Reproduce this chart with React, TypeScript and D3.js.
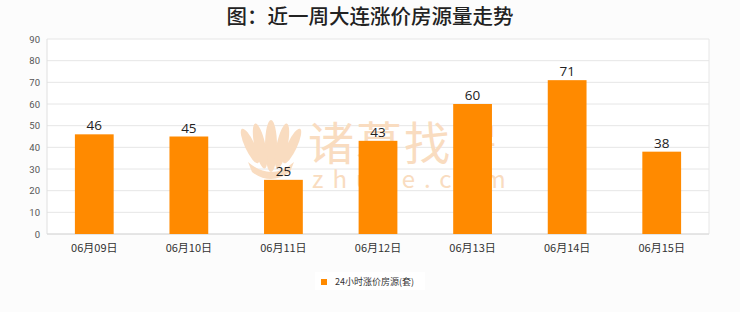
import React from "react";
import * as d3 from "d3";

const categories = ["06月09日", "06月10日", "06月11日", "06月12日", "06月13日", "06月14日", "06月15日"];
const values = [46, 45, 25, 43, 60, 71, 38];
const yTicks = [0, 10, 20, 30, 40, 50, 60, 70, 80, 90];
const seriesName = "24小时涨价房源(套)";
const title = "图：近一周大连涨价房源量走势";

const W = 740, H = 312;
const left = 47, right = 709, top = 39, bottom = 234;

const petals = [
  { dx: 0, rx: 6, ry: 26, rot: 0 },
  { dx: -11, rx: 5.5, ry: 23, rot: -12 },
  { dx: 11, rx: 5.5, ry: 23, rot: 12 },
  { dx: -21, rx: 5, ry: 19, rot: -25 },
  { dx: 21, rx: 5, ry: 19, rot: 25 },
];

export default function App() {
  const x = d3.scaleBand<string>().domain(categories).range([left, right]).paddingInner(0).paddingOuter(0);
  const y = d3.scaleLinear().domain([0, 90]).range([bottom, top]);
  const bw = x.bandwidth() * 0.41;
  const wmColor = "#f9dcc0";
  return (
    <svg width={W} height={H} style={{ position: "absolute", left: 0, top: 0, display: "block" }}>
      <rect x={0} y={0} width={W} height={H} fill="#fcfcfc" />
      <text x={370} y={24} textAnchor="middle" fontFamily="'Noto Sans CJK SC'" fontSize={20.5} fontWeight={500} fill="#222">{title}</text>
      <rect x={left} y={top} width={right - left} height={bottom - top} fill="#ffffff" />
      {yTicks.map((t) => (
        <g key={t}>
          <line x1={left} x2={right} y1={y(t)} y2={y(t)} stroke="#e6e6e6" strokeWidth={1} />
          <text x={40} y={y(t) + 3.5} textAnchor="end" fontFamily="Roboto, 'DejaVu Sans'" fontSize={9.5} fill="#555">{t}</text>
        </g>
      ))}
      <line x1={left} x2={left} y1={top} y2={bottom} stroke="#e0e0e0" />
      <line x1={right} x2={right} y1={top} y2={bottom} stroke="#e6e6e6" />
      <line x1={left} x2={right} y1={bottom} y2={bottom} stroke="#d8d8d8" />
      <g fill={wmColor}>
        {petals.map((p, i) => (
          <ellipse key={i} cx={0} cy={0} rx={p.rx} ry={p.ry}
            transform={`translate(${271 + p.dx},${146}) rotate(${p.rot})`} />
        ))}
        <path d="M248,162 Q271,182 294,162 L290,172 Q271,186 252,172 Z" />
      </g>
      <g fill={wmColor} fontFamily="'Noto Sans CJK SC'">
        <text x={308} y={160} fontSize={46} fontWeight={400} letterSpacing={2}>诸葛找房</text>
        <text x={312} y={188} fontSize={24} letterSpacing={9}>zhuge.com</text>
      </g>
      {categories.map((c, i) => {
        const cx = (x(c) as number) + x.bandwidth() / 2;
        return (
          <g key={c}>
            <rect x={cx - bw / 2} y={y(values[i])} width={bw} height={bottom - y(values[i])} fill="#ff8a00" />
          </g>
        );
      })}
      {categories.map((c, i) => {
        const cx = (x(c) as number) + x.bandwidth() / 2;
        return (
          <g key={c + "l"}>
            <text x={cx} y={y(values[i]) - 4} textAnchor="middle" fontFamily="'Open Sans', 'DejaVu Sans'" fontSize={13.5} fill="#222">{values[i]}</text>
            <text x={cx} y={252} textAnchor="middle" fontFamily="'Noto Sans CJK SC'" fontSize={11} fill="#333">{c}</text>
          </g>
        );
      })}
      <rect x={315} y={272} width={110} height={18} fill="#ffffff" />
      <rect x={321} y={279} width={6} height={6} fill="#ff8a00" />
      <text x={335} y={285} fontFamily="'Noto Sans CJK SC'" fontSize={9} fill="#333">{seriesName}</text>
    </svg>
  );
}
